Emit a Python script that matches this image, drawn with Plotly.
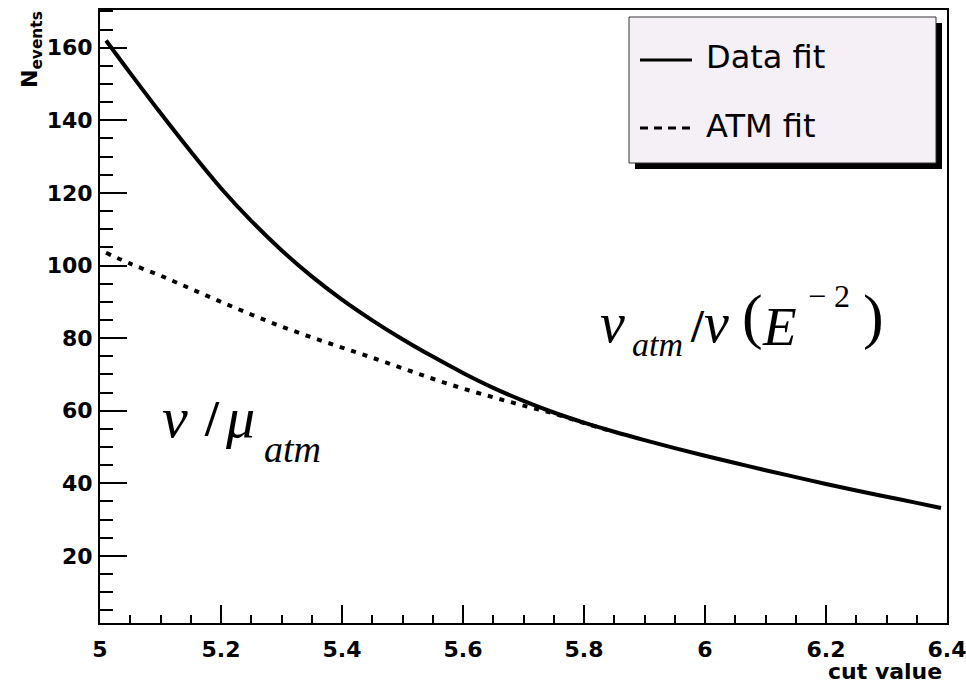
import plotly.graph_objects as go

# ---------------- data ----------------
cut_data = [5.01, 5.05, 5.10, 5.15, 5.20, 5.25, 5.30, 5.35, 5.40, 5.45, 5.50, 5.55,
            5.60, 5.65, 5.70, 5.75, 5.80, 5.85, 5.90, 5.95, 6.00, 6.05, 6.10, 6.15,
            6.20, 6.25, 6.30, 6.35, 6.39]
n_data_fit = [162.0, 153.0, 142.0, 131.4, 121.3, 112.3, 104.2, 97.0, 90.6, 84.9, 79.7, 74.9,
              70.4, 66.3, 62.7, 59.5, 56.7, 54.2, 51.9, 49.7, 47.6, 45.6, 43.6, 41.7,
              39.8, 38.0, 36.3, 34.6, 33.2]

cut_atm = [5.01, 5.05, 5.10, 5.15, 5.20, 5.25, 5.30, 5.35, 5.40, 5.45, 5.50, 5.55,
           5.60, 5.65, 5.70, 5.75, 5.80, 5.85]
n_atm_fit = [103.5, 100.5, 97.2, 93.6, 90.0, 86.5, 83.2, 80.2, 77.4, 74.6, 71.7, 68.8,
             66.1, 63.7, 61.4, 59.2, 56.6, 54.1]

x_ticks = [5.0, 5.2, 5.4, 5.6, 5.8, 6.0, 6.2, 6.4]
x_tick_labels = ["5", "5.2", "5.4", "5.6", "5.8", "6", "6.2", "6.4"]
y_ticks = [20, 40, 60, 80, 100, 120, 140, 160]
y_tick_labels = ["20", "40", "60", "80", "100", "120", "140", "160"]

legend_labels = ["Data fit", "ATM fit"]

# ---------------- layout geometry ----------------
W, H = 966, 684
L, R, T, B = 100, 947, 10, 623


def px(x):
    return (x - L) / (R - L)


def py(y):
    return (B - y) / (B - T)


SANS = "DejaVu Sans"
SERIF = "Liberation Serif"

fig = go.Figure()

fig.add_trace(go.Scatter(x=cut_atm, y=n_atm_fit, mode="lines", name=legend_labels[1],
                         line=dict(color="black", width=4, dash="5px,7px", shape="spline"),
                         showlegend=False))
fig.add_trace(go.Scatter(x=cut_data, y=n_data_fit, mode="lines", name=legend_labels[0],
                         line=dict(color="black", width=4, shape="spline"),
                         showlegend=False))

shapes = []
# legend shadow + box
shapes.append(dict(type="rect", xref="paper", yref="paper",
                   x0=px(635), x1=px(942), y0=py(169), y1=py(23),
                   fillcolor="black", line=dict(width=0), layer="above"))
shapes.append(dict(type="rect", xref="paper", yref="paper",
                   x0=px(629), x1=px(936), y0=py(163), y1=py(17),
                   fillcolor="#f5f0f5", line=dict(color="#333333", width=1), layer="above"))
shapes.append(dict(type="line", xref="paper", yref="paper",
                   x0=px(640), x1=px(692), y0=py(60), y1=py(60),
                   line=dict(color="black", width=3), layer="above"))
shapes.append(dict(type="line", xref="paper", yref="paper",
                   x0=px(640), x1=px(694), y0=py(128), y1=py(128),
                   line=dict(color="black", width=3, dash="8px,6px"), layer="above"))

ann = []


def add_text(text, x, y, size, family=SERIF, xanchor="left", yanchor="middle",
             angle=0, bold=False, italic=False):
    t = text
    if bold:
        t = "<b>" + t + "</b>"
    if italic:
        t = "<i>" + t + "</i>"
    ann.append(dict(text=t, x=px(x), y=py(y), xref="paper", yref="paper",
                    xanchor=xanchor, yanchor=yanchor, showarrow=False,
                    textangle=angle, font=dict(family=family, size=size, color="black")))


# legend text
add_text(legend_labels[0], 704, 57, 32, family=SANS)
add_text(legend_labels[1], 704, 126, 32, family=SANS)

# axis titles
add_text("N<sub>events</sub>", 31, 50, 22, family=SANS, xanchor="center",
         angle=-90, bold=True)
add_text("cut value", 944, 671, 22, family=SANS, xanchor="right", bold=True)

# formula right: nu_atm / nu(E^-2)
add_text("ν", 598, 323, 56, italic=True)
add_text("atm", 630, 344, 34, italic=True)
add_text("/", 697, 326, 46, xanchor="center", bold=True)
add_text("ν", 702, 323, 56, italic=True)
add_text("(", 752, 316, 62, xanchor="center")
add_text("E", 760, 326, 55, italic=True)
add_text("− 2", 806, 296, 32)
add_text(")", 873, 316, 62, xanchor="center")

# formula left: nu / mu_atm
add_text("ν", 160, 417, 58, italic=True)
add_text("/", 212, 418, 50, xanchor="center", bold=True)
add_text("μ", 223, 417, 58, italic=True)
add_text("atm", 262, 449, 38, italic=True)

axis_common = dict(showgrid=False, zeroline=False, showline=True, linecolor="black",
                   linewidth=2, mirror=True, ticks="inside", tickcolor="black",
                   tickwidth=2, automargin=False, ticklabeloverflow="allow",
                   tickfont=dict(family=SANS, size=22, color="black"))

fig.update_layout(
    width=W, height=H,
    margin=dict(l=L, r=W - R, t=T, b=H - B, autoexpand=False),
    paper_bgcolor="white", plot_bgcolor="white",
    xaxis=dict(range=[5.0, 6.4], tickvals=x_ticks,
               ticktext=["<b>" + s + "</b>" for s in x_tick_labels],
               ticklen=18, ticklabelstandoff=6,
               minor=dict(dtick=0.05, ticklen=8, ticks="inside", tickcolor="black", tickwidth=2),
               **axis_common),
    yaxis=dict(range=[1.5, 170.4], tickvals=y_ticks,
               ticktext=["<b>" + s + "</b>" for s in y_tick_labels],
               ticklen=27, ticklabelstandoff=1,
               minor=dict(dtick=5, ticklen=13, ticks="inside", tickcolor="black", tickwidth=2),
               **axis_common),
    shapes=shapes,
    annotations=ann,
    showlegend=False,
)

fig.update_traces(hoverinfo="skip")

fig.write_html("out.html")
